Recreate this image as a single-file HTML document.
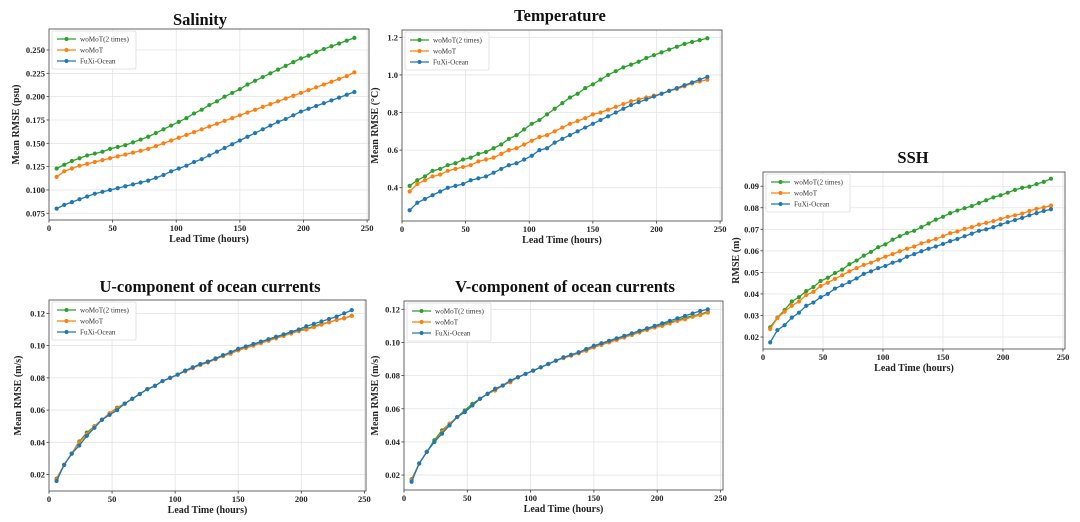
<!DOCTYPE html>
<html><head><meta charset="utf-8"><style>
html,body{margin:0;padding:0;background:#fff;}
svg{display:block;font-family:"Liberation Serif",serif;}
</style></head><body>
<svg id="fig" width="1080" height="522" viewBox="0 0 1080 522"></svg>
<script>
const hours = [];
for (let h = 6; h <= 240; h += 6) hours.push(h);
const seriesNames = ["woMoT(2 times)", "woMoT", "FuXi-Ocean"];
const salGreen = [0.123,0.127,0.131,0.134,0.137,0.139,0.141,0.144,0.146,0.148,0.151,0.154,0.157,0.161,0.165,0.169,0.173,0.177,0.182,0.186,0.191,0.195,0.200,0.204,0.208,0.213,0.217,0.221,0.225,0.229,0.233,0.237,0.241,0.244,0.248,0.251,0.254,0.257,0.260,0.263];
const salOrange = [0.114,0.120,0.123,0.126,0.128,0.130,0.132,0.134,0.136,0.138,0.140,0.142,0.144,0.147,0.150,0.153,0.156,0.159,0.162,0.165,0.168,0.171,0.174,0.177,0.180,0.183,0.186,0.189,0.192,0.195,0.198,0.201,0.204,0.207,0.210,0.213,0.216,0.219,0.222,0.226];
const salBlue = [0.080,0.084,0.087,0.090,0.093,0.096,0.098,0.100,0.102,0.104,0.106,0.108,0.110,0.113,0.116,0.120,0.123,0.126,0.130,0.133,0.137,0.141,0.145,0.149,0.153,0.157,0.161,0.165,0.169,0.173,0.176,0.180,0.184,0.187,0.190,0.193,0.196,0.199,0.202,0.205];
const tmpGreen = [0.41,0.44,0.46,0.49,0.50,0.52,0.53,0.55,0.56,0.58,0.59,0.61,0.63,0.66,0.68,0.71,0.74,0.76,0.79,0.82,0.85,0.88,0.90,0.93,0.95,0.975,1.00,1.02,1.04,1.055,1.07,1.09,1.105,1.12,1.135,1.15,1.165,1.175,1.185,1.195];
const tmpOrange = [0.38,0.42,0.44,0.46,0.47,0.49,0.50,0.51,0.52,0.54,0.55,0.56,0.58,0.60,0.61,0.63,0.65,0.67,0.68,0.70,0.72,0.74,0.755,0.77,0.79,0.80,0.815,0.83,0.845,0.86,0.87,0.88,0.89,0.90,0.915,0.925,0.94,0.955,0.965,0.975];
const tmpBlue = [0.28,0.32,0.34,0.36,0.38,0.40,0.41,0.42,0.44,0.45,0.46,0.48,0.50,0.52,0.53,0.55,0.57,0.60,0.61,0.64,0.66,0.68,0.70,0.72,0.74,0.76,0.78,0.80,0.82,0.84,0.855,0.87,0.885,0.90,0.915,0.93,0.945,0.96,0.975,0.99];
const sshGreen = [0.0245,0.029,0.0325,0.0365,0.0385,0.0413,0.0432,0.046,0.0475,0.0497,0.0513,0.0538,0.0555,0.0578,0.0595,0.0617,0.063,0.0652,0.0668,0.0683,0.0693,0.071,0.0727,0.0745,0.0758,0.0775,0.0787,0.0798,0.0808,0.0822,0.0835,0.0848,0.0858,0.087,0.0883,0.0893,0.0898,0.091,0.092,0.0935];
const sshOrange = [0.0237,0.0288,0.0318,0.0345,0.0365,0.0395,0.041,0.0437,0.0452,0.047,0.0487,0.0505,0.052,0.0535,0.0545,0.056,0.0573,0.0585,0.0598,0.061,0.062,0.0635,0.0645,0.0655,0.0668,0.0682,0.069,0.0702,0.071,0.0722,0.073,0.0738,0.0748,0.0758,0.0765,0.0773,0.0785,0.0795,0.0802,0.081];
const sshBlue = [0.0175,0.0232,0.0255,0.029,0.0313,0.0345,0.036,0.0385,0.04,0.0425,0.044,0.0455,0.0472,0.0493,0.0505,0.052,0.053,0.0545,0.0555,0.0573,0.0585,0.0598,0.061,0.062,0.0632,0.0645,0.0655,0.0668,0.068,0.0693,0.07,0.071,0.0722,0.0733,0.0743,0.0753,0.0765,0.0775,0.0785,0.0793];
const uGreen = [0.0175,0.026,0.033,0.0405,0.046,0.050,0.054,0.058,0.0615,0.064,0.067,0.070,0.073,0.075,0.078,0.080,0.082,0.0845,0.0865,0.0885,0.090,0.092,0.094,0.0955,0.0975,0.099,0.1005,0.102,0.1035,0.105,0.1065,0.108,0.1095,0.1105,0.112,0.1135,0.1145,0.116,0.117,0.1185];
const uOrange = [0.017,0.026,0.033,0.040,0.045,0.050,0.054,0.058,0.061,0.064,0.067,0.070,0.073,0.075,0.078,0.080,0.082,0.084,0.086,0.088,0.0895,0.0915,0.0935,0.095,0.097,0.0985,0.100,0.1015,0.103,0.1045,0.106,0.1075,0.109,0.110,0.1115,0.113,0.1145,0.116,0.117,0.1185];
const uBlue = [0.016,0.026,0.033,0.038,0.044,0.049,0.054,0.057,0.060,0.064,0.067,0.070,0.073,0.075,0.078,0.080,0.082,0.0845,0.0865,0.0885,0.090,0.092,0.094,0.096,0.098,0.0995,0.101,0.1025,0.104,0.1055,0.107,0.1085,0.110,0.112,0.1135,0.115,0.1165,0.118,0.120,0.122];
const vGreen = [0.0175,0.027,0.034,0.041,0.047,0.051,0.055,0.059,0.063,0.066,0.069,0.072,0.074,0.077,0.079,0.081,0.083,0.085,0.087,0.089,0.091,0.0925,0.094,0.096,0.0975,0.099,0.1005,0.102,0.1035,0.105,0.1065,0.108,0.1095,0.111,0.112,0.1135,0.115,0.116,0.117,0.1185];
const vOrange = [0.017,0.027,0.034,0.040,0.046,0.051,0.055,0.058,0.062,0.066,0.069,0.071,0.074,0.076,0.079,0.081,0.083,0.085,0.087,0.089,0.0905,0.092,0.0935,0.095,0.097,0.0985,0.100,0.1015,0.103,0.1045,0.106,0.1075,0.109,0.110,0.1115,0.113,0.114,0.1155,0.1165,0.118];
const vBlue = [0.016,0.027,0.034,0.040,0.045,0.050,0.055,0.058,0.062,0.066,0.069,0.072,0.074,0.077,0.079,0.081,0.083,0.085,0.087,0.089,0.091,0.0925,0.094,0.096,0.098,0.0995,0.101,0.1025,0.104,0.1055,0.107,0.1085,0.110,0.1115,0.113,0.1145,0.116,0.1175,0.119,0.120];
const xTicks = [0,50,100,150,200,250];
const salTicks = [0.075,0.100,0.125,0.150,0.175,0.200,0.225,0.250];
const tmpTicks = [0.4,0.6,0.8,1.0,1.2];
const sshTicks = [0.02,0.03,0.04,0.05,0.06,0.07,0.08,0.09];
const uvTicks = [0.02,0.04,0.06,0.08,0.10,0.12];

const NS = "http://www.w3.org/2000/svg";
const svg = document.getElementById("fig");
const colors = ["#2ca02c","#ff7f0e","#1f77b4"];
function mk(tag, attrs, parent, text){
  const e = document.createElementNS(NS, tag);
  for (const k in attrs) e.setAttribute(k, attrs[k]);
  if (text !== undefined) e.textContent = text;
  (parent || svg).appendChild(e);
  return e;
}
function panel(p){
  const g = mk("g", {});
  
  
  const sx = v => p.L + (v - p.x0) / (p.x1 - p.x0) * (p.R - p.L);
  const sy = v => p.B - (v - p.y0) / (p.y1 - p.y0) * (p.B - p.T);
  // grid
  xTicks.forEach(t => {
    const x = sx(t);
    if (x > p.L + 1 && x < p.R - 1) {
      const gl = mk("line", {x1:x, x2:x, y1:p.T, y2:p.B, stroke:"#e4e4e4", "stroke-width":0.8}, g);
      
      
    }
    const tl = mk("text", {x:x, y:p.B+11, "font-size":8.5, "font-weight":"bold", "text-anchor":"middle", fill:"#222"}, g, String(t));
    
    
    mk("line", {x1:x, x2:x, y1:p.B, y2:p.B+2.5, stroke:"#333", "stroke-width":0.8}, g);
  });
  p.yt.forEach(t => {
    const y = sy(t);
    const gl = mk("line", {x1:p.L, x2:p.R, y1:y, y2:y, stroke:"#e4e4e4", "stroke-width":0.8}, g);
    
    
    mk("line", {x1:p.L-2.5, x2:p.L, y1:y, y2:y, stroke:"#333", "stroke-width":0.8}, g);
    const tl = mk("text", {x:p.L-4, y:y+3, "font-size":8.5, "font-weight":"bold", "text-anchor":"end", fill:"#222"}, g, t.toFixed(p.dec));
    
    
  });
  // series
  p.data.forEach((arr, si) => {
    const sg = mk("g", {}, g);
    
    
    const pts = arr.map((v, i) => sx(hours[i]).toFixed(2) + "," + sy(v).toFixed(2)).join(" ");
    const pl = mk("polyline", {points:pts, fill:"none", stroke:colors[si], "stroke-width":1.3}, sg);
    
    
    arr.forEach((v, i) => {
      const c = mk("circle", {cx:sx(hours[i]), cy:sy(v), r:2.1, fill:colors[si]}, sg);
      
      
    });
  });
  // frame
  const fr = mk("rect", {x:p.L, y:p.T, width:p.R-p.L, height:p.B-p.T, fill:"none", stroke:"#555", "stroke-width":0.9}, g);
  
  
  // legend
  const lg = mk("g", {}, g);
  
  
  mk("rect", {x:p.L+3, y:p.T+2, width:84, height:38, fill:"#fff", stroke:"#ddd", "stroke-width":0.8, rx:1.5}, lg);
  seriesNames.forEach((n, i) => {
    const y = p.T + 10 + i * 11;
    const en = mk("g", {}, lg);
    
    
    mk("line", {x1:p.L+8, x2:p.L+27, y1:y, y2:y, stroke:colors[i], "stroke-width":1.3}, en);
    mk("circle", {cx:p.L+17.5, cy:y, r:2, fill:colors[i]}, en);
    mk("text", {x:p.L+31, y:y+2.5, "font-size":7.2, fill:"#333"}, en, n);
  });
  const tt = mk("text", {x:p.tx, y:p.ty, "font-size":p.tfs || 16.5, "font-weight":"bold", "text-anchor":"middle", fill:"#111"}, g, p.title);
  
  
  const xl = mk("text", {x:(p.L+p.R)/2, y:p.B+22, "font-size":10, "font-weight":"bold", "text-anchor":"middle", fill:"#222"}, g, "Lead Time (hours)");
  
  
  const yc = (p.T+p.B)/2;
  const yl = mk("text", {x:p.ylx, y:yc, "font-size":10, "font-weight":"bold", "text-anchor":"middle", fill:"#222", transform:"rotate(-90 "+p.ylx+" "+yc+")"}, g, p.ylabel);
  
  
}
panel({id:"salinity", title:"Salinity", tx:200, ty:25, L:49, R:369, T:29, B:220, x0:0, x1:251.5, y0:0.0678, y1:0.2725, yt:salTicks, dec:3, ylabel:"Mean RMSE (psu)", ylx:19, data:[salGreen,salOrange,salBlue]});
panel({id:"temperature", title:"Temperature", tx:560, ty:21, L:402, R:722, T:30, B:221, x0:0, x1:251.5, y0:0.223, y1:1.239, yt:tmpTicks, dec:1, ylabel:"Mean RMSE (°C)", ylx:378, data:[tmpGreen,tmpOrange,tmpBlue]});
panel({id:"ssh", title:"SSH", tx:913, ty:163, L:763, R:1065, T:172, B:349, x0:0, x1:251.7, y0:0.01444, y1:0.0966, yt:sshTicks, dec:2, ylabel:"RMSE (m)", ylx:739, data:[sshGreen,sshOrange,sshBlue]});
panel({id:"u-current", title:"U-component of ocean currents", tx:210, ty:292, L:49, R:366, T:300, B:491, x0:0, x1:251.3, y0:0.0098, y1:0.1283, yt:uvTicks, dec:2, ylabel:"Mean RMSE (m/s)", ylx:21, data:[uGreen,uOrange,uBlue]});
panel({id:"v-current", title:"V-component of ocean currents", tx:565, ty:292, L:404, R:723, T:301, B:490, x0:0, x1:252, y0:0.011, y1:0.125, yt:uvTicks, dec:2, ylabel:"Mean RMSE (m/s)", ylx:378, data:[vGreen,vOrange,vBlue]});
</script>
</body></html>
